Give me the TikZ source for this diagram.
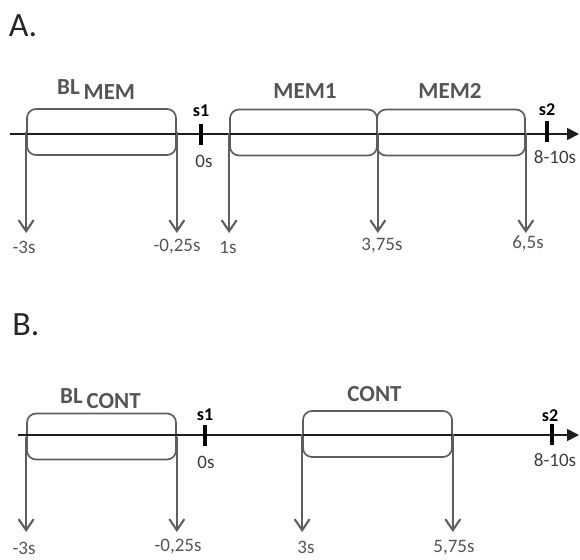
\documentclass[tikz,border=0pt]{standalone}
\usepackage{fontspec}
\setmainfont{Carlito}
\usetikzlibrary{arrows.meta}
\definecolor{boxgray}{HTML}{5E5E5E}
\definecolor{labgray}{HTML}{555555}
\definecolor{axisblack}{HTML}{1E1E1E}
\definecolor{dkgray}{HTML}{3C3C3C}
\tikzset{
  interval/.style={draw=boxgray, line width=1.7pt, rounded corners=9pt, minimum height=46pt, inner sep=0pt},
  axisline/.style={draw=axisblack, line width=1.8pt, -{Triangle[length=12pt,width=12pt]}},
  downarr/.style={draw=boxgray, line width=1.8pt, -{Straight Barb[length=11pt,width=15pt,line width=2.1pt]}},
  tickmark/.style={fill=black, minimum width=3.8pt, minimum height=21pt, inner sep=0pt},
  numlab/.style={text=labgray, font=\fontsize{19}{19}\selectfont, inner sep=0pt},
  axlab/.style={text=dkgray, font=\fontsize{19}{19}\selectfont, inner sep=0pt},
  slab/.style={text=black, font=\fontsize{18}{18}\selectfont\bfseries, inner sep=0pt},
  biglab/.style={text=labgray, font=\fontsize{23}{23}\selectfont\bfseries, inner sep=0pt},
  panel/.style={text=black!85, font=\fontsize{34}{34}\selectfont, inner sep=0pt}
}
\begin{document}
\begin{tikzpicture}[x=1pt,y=-1pt]
\useasboundingbox (0,0) rectangle (580,559);
% ---------- Panel A ----------
\node[panel] (pA) at (23,26) {A.};
\node[interval, minimum width=149pt] (blm) at (101.5,132) {};
\node[interval, minimum width=147pt] (mem1) at (303.5,132.5) {};
\node[interval, minimum width=148pt] (mem2) at (451,132.5) {};
\coordinate (a0) at (10,134);
\coordinate (a1) at (579,134);
\draw[axisline] (a0) -- (a1);
\node[tickmark] (s1a) at (201,134) {};
\node[tickmark] (s2a) at (547,131) {};
\node[slab] (s1al) at (201,111) {s1};
\node[slab] (s2al) at (547,110) {s2};
\node[axlab] (t0a) at (204,161) {0s};
\node[axlab] (t2a) at (555,157) {8-10s};
\node[biglab, anchor=base west] (blml) at (57,95) {BL\,\raisebox{-5pt}{MEM}};
\node[biglab] (mem1l) at (305,91) {MEM1};
\node[biglab] (mem2l) at (450,91) {MEM2};
\coordinate (ya) at (0,233);
\draw[downarr] (blm.west) -- (blm.west |- ya);
\draw[downarr] (blm.east) -- (blm.east |- ya);
\draw[downarr] (mem1.west) -- (mem1.west |- ya);
\draw[downarr] (mem1.east) -- (mem1.east |- ya);
\draw[downarr] (mem2.east) -- (mem2.east |- ya);
\node[numlab] (la1) at (24,247) {-3s};
\node[numlab] (la2) at (177,247) {-0,25s};
\node[numlab] (la3) at (228,247) {1s};
\node[numlab] (la4) at (382,246) {3,75s};
\node[numlab] (la5) at (528,243) {6,5s};
% ---------- Panel B ----------
\node[panel] (pB) at (26,325) {B.};
\node[interval, minimum width=149pt] (blc) at (101.5,436.5) {};
\node[interval, minimum width=149pt] (cont) at (377.5,434) {};
\coordinate (b0) at (18,435);
\coordinate (b1) at (579,435);
\draw[axisline] (b0) -- (b1);
\node[tickmark] (s1b) at (205,435) {};
\node[tickmark] (s2b) at (552,434) {};
\node[slab] (s1bl) at (205,415) {s1};
\node[slab] (s2bl) at (550,416) {s2};
\node[axlab] (t0b) at (206,462) {0s};
\node[axlab] (t2b) at (555,460) {8-10s};
\node[biglab, anchor=base west] (blcl) at (60,403) {BL\,\raisebox{-5pt}{CONT}};
\node[biglab] (contl) at (374.5,394.5) {CONT};
\coordinate (yb) at (0,532);
\draw[downarr] (blc.west) -- (blc.west |- yb);
\draw[downarr] (blc.east) -- (blc.east |- yb);
\draw[downarr] (cont.west) -- (cont.west |- yb);
\draw[downarr] (cont.east) -- (cont.east |- yb);
\node[numlab] (lb1) at (24,548) {-3s};
\node[numlab] (lb2) at (178,547) {-0,25s};
\node[numlab] (lb3) at (306,547) {3s};
\node[numlab] (lb4) at (454,548) {5,75s};
\end{tikzpicture}
\end{document}
